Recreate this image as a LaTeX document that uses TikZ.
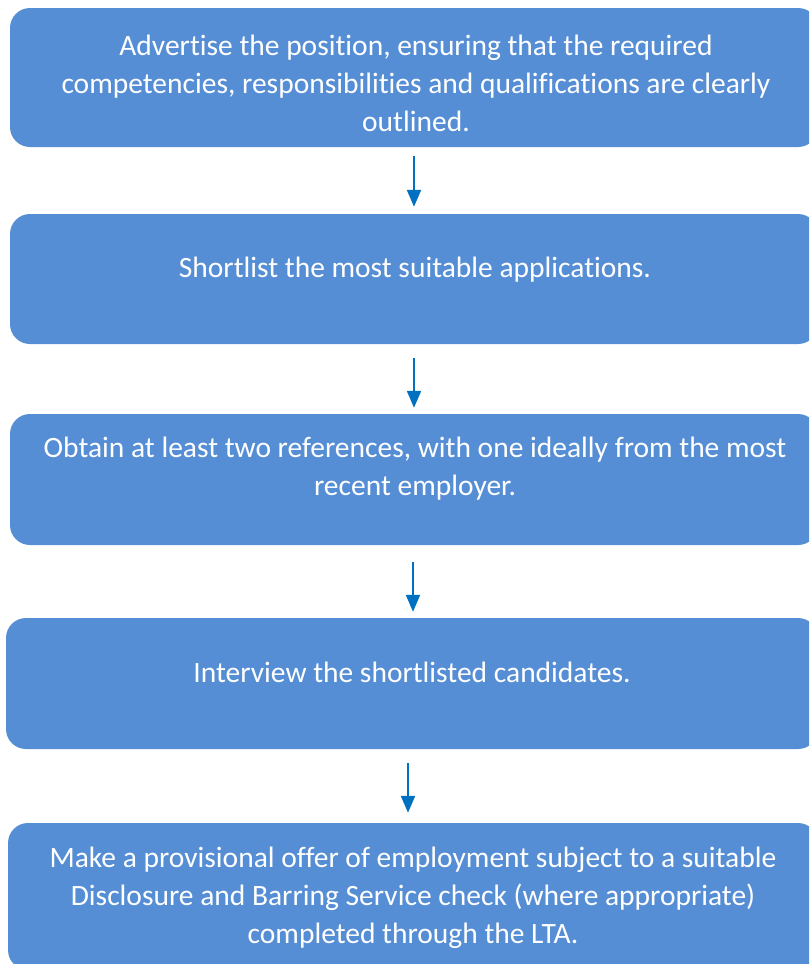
\documentclass[tikz,border=0pt]{standalone}
\usepackage{fontspec}
\setmainfont{Carlito}[Ligatures=NoCommon]
\usetikzlibrary{arrows.meta}

\definecolor{boxblue}{RGB}{85,142,213}
\definecolor{arrowblue}{RGB}{0,112,192}

\tikzset{
  stepbox/.style={rectangle, rounded corners=20pt, fill=boxblue, draw=none, inner sep=0pt},
  steptext/.style={text=white, align=center, font=\fontsize{29.5}{38}\selectfont, inner sep=0pt},
  flow/.style={draw=arrowblue, line width=2pt, -{Triangle[length=17pt,width=14pt]}}
}

\begin{document}
\begin{tikzpicture}[x=1pt, y=-1pt]
        \useasboundingbox (0,0) rectangle (809,964);
        \clip (0,0) rectangle (809,964);

        % the five steps
        \node[stepbox, minimum width=808pt, minimum height=139pt] (step1) at (414,77.5) {};
        \node[stepbox, minimum width=808pt, minimum height=130pt] (step2) at (414,279) {};
        \node[stepbox, minimum width=808pt, minimum height=131pt] (step3) at (414,479.5) {};
        \node[stepbox, minimum width=812pt, minimum height=131pt] (step4) at (412,683.5) {};
        \node[stepbox, minimum width=810pt, minimum height=147pt] (step5) at (413,896.5) {};

        \node[steptext] (text1) at (416,83) {Advertise the position, ensuring that the required\\competencies, responsibilities and qualifications are clearly\\outlined.};
        \node[steptext] (text2) at (415,270) {Shortlist the most suitable applications.};
        \node[steptext] (text3) at (415,469) {Obtain at least two references, with one ideally from the most\\recent employer.};
        \node[steptext] (text4) at (412,672) {Interview the shortlisted candidates.};
        \node[steptext] (text5) at (413,898) {Make a provisional offer of employment subject to a suitable\\Disclosure and Barring Service check (where appropriate)\\completed through the LTA.};

        % arrows between steps
        \draw[flow, shorten <=9pt, shorten >=7pt] (step1.south) -- (step2.north);
        \draw[flow, shorten <=14pt, shorten >=6pt] (step2.south) -- (step3.north);
        \draw[flow, shorten <=17pt, shorten >=6pt] ([xshift=-1pt]step3.south) -- ([xshift=1pt]step4.north);
        \draw[flow, shorten <=14pt, shorten >=10pt] ([xshift=-4pt]step4.south) -- ([xshift=-5pt]step5.north);
\end{tikzpicture}
\end{document}
